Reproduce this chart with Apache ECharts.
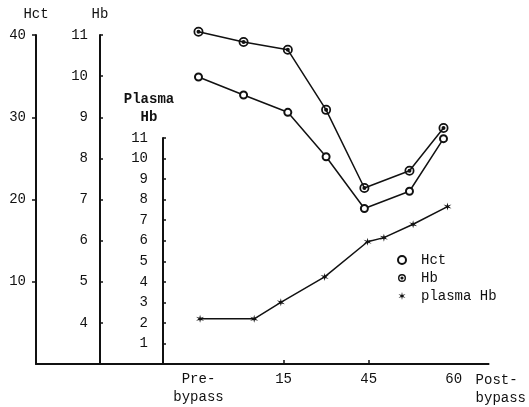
<!DOCTYPE html>
<html>
<head>
<meta charset="utf-8">
<script src="https://cdn.jsdelivr.net/npm/echarts@6/dist/echarts.min.js"></script>
<style>
  html, body { margin: 0; padding: 0; background: #fff; }
  #chart { width: 529px; height: 407px; }
</style>
</head>
<body>
<div id="chart"></div>
<script>
// x is the position along the time axis, one unit per labelled step
var xLabels = ['Pre-\nbypass', '15', '45', '60'];
var xLabelPos = [0, 1, 2, 3];
var xTickPos = [1, 2];

var hctX = [0, 0.53, 1.05, 1.5, 1.95, 2.48, 2.88];
var hctVals = [34.9, 32.7, 30.6, 25.2, 18.9, 21.0, 27.4];
var hbVals = [11.08, 10.83, 10.64, 9.18, 7.28, 7.70, 8.74];

var plasmaX = [0, 0.63, 0.94, 1.45, 1.95, 2.14, 2.48, 2.88];
var plasmaVals = [2.2, 2.2, 3.0, 4.24, 5.95, 6.15, 6.8, 7.66];

var mono = 'Liberation Mono';
var ink = '#111';

// "@" like marker: thick ring with a dot
var ringDot = 'path://M0,-10A10,10 0 1,1 0,10A10,10 0 1,1 0,-10Z' +
    'M0,-6.5A6.5,6.5 0 1,0 0,6.5A6.5,6.5 0 1,0 0,-6.5Z' +
    'M0,-4A4,4 0 1,1 0,4A4,4 0 1,1 0,-4Z';

function starPath() {
    var pts = [];
    for (var i = 0; i < 12; i++) {
        var r = i % 2 === 0 ? 10 : 3.2;
        var a = Math.PI / 6 * i - Math.PI / 2;
        pts.push((r * Math.cos(a)).toFixed(2) + ',' + (r * Math.sin(a)).toFixed(2));
    }
    return 'path://M' + pts.join('L') + 'Z';
}
var star = starPath();

function pairs(xs, ys) {
    return xs.map(function (x, i) { return [x, ys[i]]; });
}

var font = { fontFamily: mono, fontSize: 14, color: ink };

function yAxisBase(extra) {
    var base = {
        type: 'value',
        position: 'left',
        nameLocation: 'end',
        nameTextStyle: { fontFamily: mono, fontSize: 14, color: ink, align: 'center', lineHeight: 18 },
        axisLine: { show: true, onZero: false, lineStyle: { color: ink, width: 2 } },
        axisTick: { show: true, length: 3, inside: true, lineStyle: { color: ink, width: 1.5 } },
        axisLabel: Object.assign({ showMinLabel: false, margin: 12 }, font),
        splitLine: { show: false }
    };
    return Object.assign(base, extra);
}

var chart = echarts.init(document.getElementById('chart'));

var option = {
    animation: false,
    backgroundColor: '#fff',
    grid: [
        { left: 36, right: 36, top: 35, bottom: 43 },
        { left: 36, right: 36, top: 138, bottom: 43 }
    ],
    xAxis: [
        {
            type: 'value', gridIndex: 0, min: -1.91, max: 3.41,
            name: 'Post-\nbypass', nameLocation: 'end', nameGap: -13,
            nameTextStyle: { fontFamily: mono, fontSize: 14, color: ink, align: 'left', verticalAlign: 'top', lineHeight: 18, padding: [7, 0, 0, 0] },
            axisLine: { onZero: false, lineStyle: { color: ink, width: 2 } },
            axisTick: { show: true, inside: true, length: 4, customValues: xTickPos, lineStyle: { color: ink, width: 1.5 } },
            axisLabel: Object.assign({
                customValues: xLabelPos, margin: 6, lineHeight: 18,
                formatter: function (v) { return xLabels[xLabelPos.indexOf(Math.round(v))] || ''; }
            }, font),
            splitLine: { show: false }
        },
        {
            type: 'value', gridIndex: 1, min: -1.91, max: 3.41, show: false
        }
    ],
    yAxis: [
        yAxisBase({
            gridIndex: 0, min: 0, max: 40, interval: 10, name: 'Hct', nameGap: 12,
            axisTick: { show: true, length: 4, inside: false, lineStyle: { color: ink, width: 1.5 } },
            axisLabel: Object.assign({ showMinLabel: false, margin: 10 }, font)
        }),
        yAxisBase({
            gridIndex: 0, min: 3, max: 11, interval: 1, name: 'Hb', nameGap: 12, offset: -64
        }),
        yAxisBase({
            gridIndex: 1, min: 0, max: 11, interval: 1, name: 'Plasma\nHb', nameGap: 12, offset: -127,
            nameTextStyle: { fontFamily: mono, fontSize: 14, fontWeight: 'bold', color: ink, align: 'center', lineHeight: 18, padding: [0, 28, 0, 0] },
            axisLabel: Object.assign({ showMinLabel: false, margin: 15 }, font)
        })
    ],
    legend: {
        orient: 'vertical', left: 392, top: 248,
        itemWidth: 8, itemHeight: 8, itemGap: 4,
        textStyle: { fontFamily: mono, fontSize: 14, color: ink, padding: [0, 0, 0, 10] },
        data: [
            { name: 'Hct', icon: 'emptyCircle', itemStyle: { borderWidth: 1.2 } },
            { name: 'Hb', icon: ringDot },
            { name: 'plasma Hb', icon: star }
        ]
    },
    series: [
        {
            name: 'Hct', type: 'line', xAxisIndex: 0, yAxisIndex: 0,
            data: pairs(hctX, hctVals), clip: false,
            symbol: 'emptyCircle', symbolSize: 7,
            itemStyle: { color: ink, borderWidth: 1.3 },
            lineStyle: { color: ink, width: 1.5 }
        },
        {
            name: 'Hb', type: 'line', xAxisIndex: 0, yAxisIndex: 1,
            data: pairs(hctX, hbVals), clip: false,
            symbol: ringDot, symbolSize: 10,
            itemStyle: { color: ink },
            lineStyle: { color: ink, width: 1.5 }
        },
        {
            name: 'plasma Hb', type: 'line', xAxisIndex: 1, yAxisIndex: 2,
            data: pairs(plasmaX, plasmaVals), clip: false,
            symbol: star, symbolSize: 8,
            itemStyle: { color: ink },
            lineStyle: { color: ink, width: 1.5 }
        }
    ]
};

chart.setOption(option);
</script>
</body>
</html>
